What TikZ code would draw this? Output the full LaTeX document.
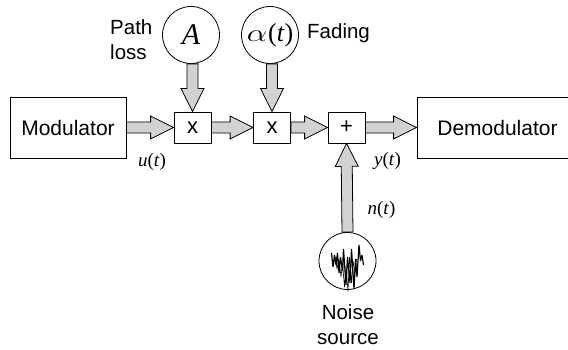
\documentclass[tikz,border=0pt]{standalone}
\usepackage{fontspec}
\setmainfont{Liberation Sans}
\newfontfamily\tms{Liberation Serif}
\usetikzlibrary{calc}
\definecolor{arrgray}{RGB}{210,210,210}
\tikzset{
  box/.style={draw, line width=0.8pt, rectangle, inner sep=0pt, font=\fontsize{21}{25}\selectfont},
  opbox/.style={box, minimum width=37pt, minimum height=31pt, font=\fontsize{22}{22}\selectfont},
  src/.style={draw, line width=0.8pt, circle, inner sep=0pt, minimum size=57pt},
  lbl/.style={inner sep=0pt, font=\fontsize{20.5}{25}\selectfont},
  sig/.style={inner sep=0pt, font=\fontsize{19}{22}\tms\selectfont},
  blk/.style={draw, line width=0.8pt, fill=arrgray, line join=miter}
}
\newcommand\barrow[2]{%
  \path (#1) coordinate (s) (#2) coordinate (e);
  \path ($(e)!23pt!(s)$) coordinate (h);
  \draw[blk] ($(s)!5.5pt!90:(e)$) -- ($(h)!5.5pt!90:(e)$) -- ($(h)!11.5pt!90:(e)$)
    -- (e) -- ($(h)!11.5pt!-90:(e)$) -- ($(h)!5.5pt!-90:(e)$) -- ($(s)!5.5pt!-90:(e)$) -- cycle;}
\begin{document}
\begin{tikzpicture}[x=1pt,y=-1pt]
\useasboundingbox (0,0) rectangle (568,350);
% blocks
\node[box, minimum width=116pt, minimum height=61pt] (mod) at (68,127.5) {Modulator};
\node[box, minimum width=161pt, minimum height=61pt] (demod) at (497.5,127.5) {Demodulator};
\node[opbox] (m1) at (192.5,127.5) {x};
\node[opbox] (m2) at (272,127.5) {x};
\node[opbox] (add) at (346.5,127.5) {+};
% sources
\node[src] (A) at (191,35) {\fontsize{30}{30}\tms\itshape A};
\node[src] (al) at (270,35) {\fontsize{30}{30}\selectfont\scalebox{1.3}[1]{$\alpha$}\kern1pt{\tms\fontsize{26}{26}\selectfont(\textit{t})}};
\node[src] (noise) at (347.5,261) {};
% noise squiggle
\draw[line width=1.2pt, line join=bevel]
  ($(noise)+(-16,-8)$) -- ++(1.5,14) -- ++(1.5,-12) -- ++(1.5,10) -- ++(1.5,-12) -- ++(1.5,20)
  -- ++(1.5,-16) -- ++(2,14) -- ++(1,-22) -- ++(2.5,36) -- ++(1.5,-28) -- ++(2.5,26)
  -- ++(1.5,-34) -- ++(2.5,40) -- ++(1.5,-30) -- ++(1.5,18) -- ++(2,-32) -- ++(1.5,16)
  -- ++(1.5,-6) -- ++(1.5,10);
\draw[line width=0.6pt, line join=bevel]
  ($(noise)+(-12,-4)$) -- ++(1.5,12) -- ++(2,-10) -- ++(2,18) -- ++(1.5,-14) -- ++(2,24)
  -- ++(1.5,-20) -- ++(2,24) -- ++(1.5,-34) -- ++(2,26) -- ++(1.5,-22) -- ++(2,12)
  -- ++(1.5,-14);
% arrows
\barrow{mod.east}{m1.west}
\barrow{m1.east}{m2.west}
\barrow{m2.east}{add.west}
\barrow{add.east}{demod.west}
\barrow{A.south -| m1.north}{m1.north}
\barrow{al.south -| m2.north}{m2.north}
\barrow{noise.north}{add.south}
% labels
\node[lbl, align=left, anchor=north west] (pl) at (110,19) {Path\\loss};
\node[lbl, anchor=base west] (fad) at (307,39) {Fading};
\node[lbl, align=center, anchor=north] (ns) at (348,304) {Noise\\source};
\node[sig] (ut) at (152,162) {\textit{u}(\textit{t})};
\node[sig] (yt) at (387.5,161) {\textit{y}(\textit{t})};
\node[sig] (nt) at (381.5,209.5) {\textit{n}(\textit{t})};
\end{tikzpicture}
\end{document}
